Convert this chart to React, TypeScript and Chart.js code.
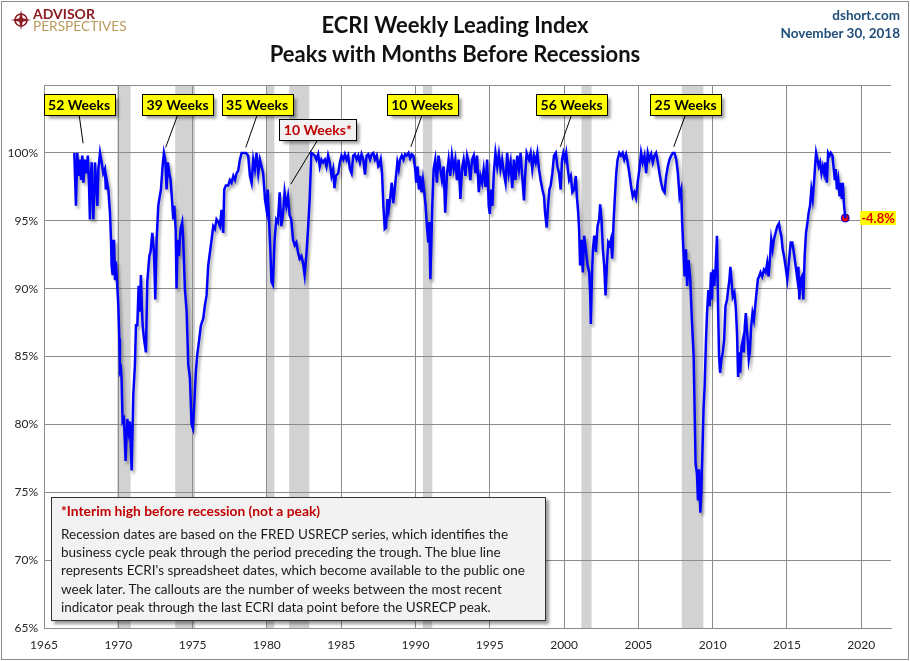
import { useEffect, useRef } from 'react';
import { Chart, registerables } from 'chart.js';

Chart.register(...registerables);

const FONT = "Lato, 'Open Sans', 'DejaVu Sans', sans-serif";

// ECRI Weekly Leading Index, % of prior peak: [year, value]
const ecri1967to1975: [number, number][] = [
  [1967.04, 100.0], [1967.15, 96.1], [1967.24, 100.0], [1967.33, 98.3], [1967.42, 99.5], [1967.5, 98.0],
  [1967.58, 99.8], [1967.65, 97.8], [1967.75, 99.5], [1967.87, 98.5], [1967.95, 99.8], [1968.03, 97.6],
  [1968.09, 95.1], [1968.15, 98.3], [1968.21, 99.3], [1968.27, 97.3], [1968.32, 95.1], [1968.38, 97.3],
  [1968.43, 99.3], [1968.5, 98.0], [1968.59, 96.1], [1968.66, 98.8], [1968.77, 100.0], [1968.88, 99.3],
  [1968.99, 98.5], [1969.1, 98.8], [1969.16, 97.3], [1969.22, 98.0], [1969.33, 97.3], [1969.44, 95.6],
  [1969.51, 93.6], [1969.55, 91.7], [1969.62, 91.0], [1969.71, 93.6], [1969.78, 90.7], [1969.84, 92.0],
  [1969.93, 90.2], [1970.0, 88.8], [1970.07, 86.3], [1970.11, 83.9], [1970.18, 84.1], [1970.22, 83.4],
  [1970.29, 80.2], [1970.38, 80.4], [1970.49, 77.3], [1970.55, 79.0], [1970.61, 80.4], [1970.7, 79.5],
  [1970.78, 80.2], [1970.9, 76.6], [1971.01, 82.2], [1971.12, 84.4], [1971.19, 87.3], [1971.28, 87.3],
  [1971.37, 90.2], [1971.46, 88.3], [1971.52, 91.0], [1971.58, 88.8], [1971.64, 87.3], [1971.73, 86.3],
  [1971.86, 85.3], [1971.95, 90.5], [1972.09, 92.4], [1972.17, 92.7], [1972.29, 94.1], [1972.4, 92.7],
  [1972.49, 89.2], [1972.58, 93.6], [1972.69, 96.1], [1972.76, 96.6], [1972.87, 97.3], [1972.98, 99.0],
  [1973.07, 100.0], [1973.16, 99.5], [1973.25, 97.3], [1973.34, 99.3], [1973.43, 98.5], [1973.52, 98.0],
  [1973.61, 96.6], [1973.7, 95.1], [1973.77, 96.1], [1973.86, 94.4], [1973.92, 90.0], [1973.99, 93.6],
  [1974.08, 92.4], [1974.19, 94.4], [1974.3, 94.9], [1974.37, 93.6], [1974.48, 90.0], [1974.6, 88.3],
  [1974.71, 84.4], [1974.82, 83.4], [1974.93, 80.0], [1975.02, 79.7],
];

const ecri1975to1983: [number, number][] = [
  [1975.11, 81.4], [1975.22, 83.9], [1975.31, 85.1], [1975.45, 86.3], [1975.56, 87.3], [1975.72, 87.8],
  [1975.83, 88.8], [1975.94, 89.5], [1976.05, 91.7], [1976.17, 92.7], [1976.28, 93.6], [1976.39, 94.6],
  [1976.5, 94.4], [1976.61, 95.1], [1976.73, 94.9], [1976.84, 94.6], [1976.95, 95.8], [1977.06, 94.1],
  [1977.13, 97.3], [1977.24, 97.6], [1977.4, 97.6], [1977.51, 98.0], [1977.62, 97.8], [1977.74, 98.3],
  [1977.85, 98.0], [1977.96, 98.5], [1978.07, 98.7], [1978.18, 99.5], [1978.3, 100.0], [1978.45, 100.0],
  [1978.59, 100.0], [1978.74, 99.8], [1978.86, 98.3], [1978.97, 97.8], [1979.08, 99.5], [1979.19, 98.8],
  [1979.3, 100.0], [1979.42, 98.5], [1979.53, 99.5], [1979.64, 99.0], [1979.75, 98.5], [1979.87, 96.6],
  [1979.98, 95.8], [1980.05, 97.3], [1980.15, 94.9], [1980.23, 92.9], [1980.31, 90.5], [1980.4, 90.3],
  [1980.52, 93.6], [1980.63, 95.1], [1980.74, 94.9], [1980.86, 97.1], [1980.97, 94.6], [1981.08, 95.4],
  [1981.19, 97.1], [1981.31, 96.1], [1981.42, 96.8], [1981.53, 95.4], [1981.64, 95.1], [1981.76, 93.6],
  [1981.87, 93.2], [1981.98, 93.4], [1982.09, 92.7], [1982.2, 92.2], [1982.32, 92.4], [1982.43, 91.9],
  [1982.54, 91.0], [1982.65, 92.4], [1982.77, 94.4], [1982.88, 96.6], [1982.99, 100.0],
];

const ecri1983to1995: [number, number][] = [
  [1983.22, 99.8], [1983.33, 99.5], [1983.45, 99.9], [1983.56, 99.0], [1983.67, 99.5], [1983.78, 99.3],
  [1983.9, 99.5], [1984.01, 99.0], [1984.12, 99.8], [1984.23, 99.3], [1984.35, 98.3], [1984.46, 98.8],
  [1984.55, 97.4], [1984.64, 98.3], [1984.8, 98.5], [1984.91, 99.3], [1985.02, 99.8], [1985.14, 99.5],
  [1985.25, 99.9], [1985.36, 99.5], [1985.47, 99.8], [1985.59, 98.8], [1985.7, 98.5], [1985.81, 99.8],
  [1985.92, 99.9], [1986.04, 99.5], [1986.15, 99.8], [1986.26, 99.3], [1986.37, 99.9], [1986.49, 99.5],
  [1986.6, 98.4], [1986.71, 99.8], [1986.82, 99.9], [1986.94, 99.5], [1987.05, 99.9], [1987.16, 100.0],
  [1987.27, 99.5], [1987.39, 99.8], [1987.5, 99.0], [1987.57, 99.1], [1987.66, 99.5], [1987.75, 98.5],
  [1987.84, 96.1], [1987.93, 94.4], [1988.02, 94.5], [1988.11, 96.6], [1988.2, 95.8], [1988.29, 96.6],
  [1988.4, 97.8], [1988.51, 96.3], [1988.6, 97.3], [1988.69, 98.3], [1988.78, 99.3], [1988.87, 98.8],
  [1988.96, 99.5], [1989.08, 99.8], [1989.19, 99.5], [1989.3, 99.9], [1989.41, 99.8], [1989.53, 100.0],
  [1989.64, 99.6], [1989.75, 99.9], [1989.86, 99.8], [1989.98, 98.8], [1990.05, 97.8], [1990.14, 99.0],
  [1990.23, 97.3], [1990.32, 98.3], [1990.41, 97.1], [1990.5, 98.0], [1990.59, 97.1], [1990.68, 96.1],
  [1990.77, 94.6], [1990.86, 93.4], [1990.93, 94.9], [1991.0, 90.7], [1991.06, 93.1], [1991.13, 96.1],
  [1991.22, 98.8], [1991.33, 99.5], [1991.44, 97.8], [1991.55, 99.8], [1991.67, 98.8], [1991.78, 98.0],
  [1991.89, 99.0], [1992.0, 95.6], [1992.12, 98.5], [1992.23, 99.5], [1992.34, 98.3], [1992.45, 99.8],
  [1992.57, 98.8], [1992.68, 99.5], [1992.79, 98.0], [1992.9, 99.5], [1993.02, 96.6], [1993.13, 98.8],
  [1993.24, 99.5], [1993.36, 98.3], [1993.47, 99.8], [1993.58, 99.3], [1993.69, 98.0], [1993.81, 99.5],
  [1993.92, 99.8], [1994.03, 98.5], [1994.14, 99.8], [1994.26, 97.1], [1994.37, 98.3], [1994.48, 97.8],
  [1994.59, 98.8], [1994.71, 97.5], [1994.82, 99.5], [1994.93, 96.1], [1995.0, 95.5],
];

const ecri1995to2008: [number, number][] = [
  [1995.09, 97.3], [1995.18, 96.1], [1995.27, 98.5], [1995.38, 100.0], [1995.5, 99.0], [1995.61, 99.9],
  [1995.72, 98.8], [1995.83, 99.5], [1995.95, 98.5], [1996.06, 97.8], [1996.17, 100.0], [1996.28, 98.5],
  [1996.4, 99.3], [1996.51, 97.4], [1996.62, 99.5], [1996.73, 98.0], [1996.85, 99.8], [1996.96, 98.8],
  [1997.07, 100.0], [1997.18, 98.3], [1997.3, 96.5], [1997.36, 98.0], [1997.48, 100.0], [1997.64, 99.5],
  [1997.75, 100.0], [1997.86, 98.8], [1997.97, 99.8], [1998.09, 99.3], [1998.2, 100.0], [1998.31, 98.8],
  [1998.42, 98.0], [1998.54, 97.3], [1998.65, 96.8], [1998.72, 95.6], [1998.83, 94.5], [1998.92, 96.1],
  [1999.01, 97.3], [1999.1, 97.6], [1999.21, 98.5], [1999.32, 99.8], [1999.44, 100.0], [1999.55, 99.0],
  [1999.66, 98.5], [1999.77, 97.3], [1999.86, 99.5], [1999.95, 100.0], [2000.05, 99.5], [2000.14, 100.0],
  [2000.23, 99.0], [2000.34, 98.0], [2000.45, 98.3], [2000.56, 97.1], [2000.68, 97.3], [2000.79, 98.3],
  [2000.86, 96.8], [2000.95, 95.6], [2001.01, 94.4], [2001.08, 91.7], [2001.17, 93.6], [2001.26, 91.2],
  [2001.35, 93.9], [2001.46, 92.9], [2001.58, 91.7], [2001.69, 91.2], [2001.76, 89.5], [2001.8, 87.4],
  [2001.87, 90.7], [2001.94, 92.9], [2002.03, 93.9], [2002.14, 92.7], [2002.25, 94.6], [2002.36, 95.1],
  [2002.43, 96.2], [2002.52, 95.1], [2002.61, 92.9], [2002.7, 91.7], [2002.79, 89.5], [2002.88, 91.7],
  [2002.97, 93.4], [2003.06, 93.2], [2003.15, 93.6], [2003.24, 92.2], [2003.33, 94.9], [2003.42, 96.8],
  [2003.51, 98.5], [2003.6, 99.5], [2003.72, 100.0], [2003.83, 99.8], [2003.94, 100.0], [2004.05, 99.5],
  [2004.17, 99.9], [2004.28, 99.3], [2004.39, 98.5], [2004.5, 97.6], [2004.62, 96.8], [2004.73, 97.1],
  [2004.84, 96.7], [2004.95, 97.8], [2005.07, 98.8], [2005.18, 100.0], [2005.29, 99.3], [2005.41, 99.8],
  [2005.52, 98.5], [2005.63, 100.0], [2005.74, 99.5], [2005.86, 99.9], [2005.97, 99.3], [2006.08, 99.8],
  [2006.19, 100.0], [2006.31, 99.3], [2006.42, 98.5], [2006.53, 97.8], [2006.64, 97.3], [2006.76, 97.1],
  [2006.87, 98.3], [2006.98, 99.0], [2007.09, 99.5], [2007.21, 99.8], [2007.32, 100.0], [2007.43, 100.0],
  [2007.55, 99.5], [2007.66, 98.5], [2007.77, 96.8], [2007.88, 97.3],
];

const ecri2008to2018: [number, number][] = [
  [2007.95, 94.8], [2008.02, 93.1], [2008.11, 90.9], [2008.2, 92.9], [2008.28, 90.2], [2008.38, 92.1],
  [2008.49, 90.7], [2008.6, 87.7], [2008.72, 85.0], [2008.78, 81.3], [2008.85, 77.1], [2008.94, 76.4],
  [2009.01, 74.4], [2009.08, 76.7], [2009.17, 73.5], [2009.23, 74.9], [2009.3, 77.6], [2009.39, 81.3],
  [2009.46, 82.8], [2009.55, 86.2], [2009.62, 88.2], [2009.71, 89.9], [2009.8, 88.7], [2009.89, 91.2],
  [2009.95, 89.2], [2010.02, 91.4], [2010.11, 90.2], [2010.2, 91.6], [2010.29, 93.9], [2010.36, 88.7],
  [2010.43, 85.0], [2010.5, 83.8], [2010.59, 84.8], [2010.68, 85.3], [2010.77, 86.2], [2010.86, 88.7],
  [2010.97, 89.2], [2011.04, 89.9], [2011.13, 90.7], [2011.19, 91.6], [2011.26, 90.7], [2011.35, 89.4],
  [2011.46, 89.7], [2011.55, 88.7], [2011.64, 86.7], [2011.71, 83.5], [2011.78, 85.3], [2011.85, 83.8],
  [2011.94, 85.7], [2012.03, 86.2], [2012.09, 85.3], [2012.16, 87.2], [2012.23, 88.2], [2012.3, 87.0],
  [2012.36, 86.2], [2012.43, 84.8], [2012.5, 85.3], [2012.59, 87.2], [2012.68, 88.2], [2012.77, 87.7],
  [2012.86, 88.7], [2012.95, 89.7], [2013.04, 90.7], [2013.13, 90.9], [2013.22, 91.2], [2013.33, 90.9],
  [2013.45, 91.4], [2013.56, 91.2], [2013.67, 91.9], [2013.76, 90.9], [2013.85, 92.1], [2013.94, 93.6],
  [2014.03, 92.9], [2014.12, 93.6], [2014.23, 94.1], [2014.35, 94.6], [2014.46, 94.8], [2014.53, 94.3],
  [2014.62, 93.9], [2014.71, 92.9], [2014.8, 92.4], [2014.91, 91.6], [2015.02, 90.7], [2015.14, 92.1],
  [2015.25, 93.4], [2015.36, 93.4], [2015.47, 92.6], [2015.59, 91.6], [2015.7, 90.7], [2015.77, 91.6],
  [2015.83, 89.2], [2015.92, 90.7], [2016.01, 90.9], [2016.1, 89.2], [2016.19, 92.4], [2016.28, 94.1],
  [2016.37, 94.8], [2016.46, 95.6], [2016.55, 96.1], [2016.64, 97.3], [2016.73, 96.6], [2016.82, 97.8],
  [2016.89, 99.0], [2016.96, 100.0], [2017.05, 99.5], [2017.14, 99.0], [2017.23, 99.3], [2017.32, 98.5],
  [2017.41, 99.0], [2017.5, 98.5], [2017.59, 99.3], [2017.68, 97.8], [2017.77, 100.0], [2017.86, 99.8],
  [2017.95, 100.0], [2018.06, 99.8], [2018.13, 99.0], [2018.22, 98.0], [2018.28, 98.8], [2018.36, 97.3],
  [2018.45, 98.0], [2018.54, 96.8], [2018.63, 97.8], [2018.69, 96.6], [2018.76, 97.8], [2018.83, 96.3],
  [2018.92, 95.2],
];

const latestPoint: [number, number] = [2018.92, 95.2];
const latestLabel = '-4.8%';

// USRECP recession periods [start, end]
const recessions: [number, number][] = [
  [1969.92, 1970.83], [1973.83, 1975.17], [1980.0, 1980.5], [1981.5, 1982.85],
  [1990.5, 1991.13], [2001.17, 2001.85], [2007.92, 2009.37],
];

// Callouts: label, box centre (year, value), pointer tip (year, value), interim flag
const calloutLabels = ['52 Weeks', '39 Weeks', '35 Weeks', '10 Weeks*', '10 Weeks', '56 Weeks', '25 Weeks'];
const calloutBoxYear = [1967.36, 1973.99, 1979.34, 1983.43, 1990.45, 2000.51, 2008.18];
const calloutBoxValue = [103.6, 103.55, 103.55, 101.75, 103.6, 103.6, 103.6];
const calloutTipYear = [1967.63, 1973.19, 1978.58, 1981.61, 1989.69, 1999.75, 2007.38];
const calloutTipValue = [100.7, 100.4, 100.4, 97.7, 100.45, 100.45, 100.45];
const calloutInterim = [false, false, false, true, false, false, false];

const xMin = 1965;
const xMax = 2022;
const xStep = 5;
const yMin = 65;
const yMax = 105;
const yStep = 5;

export default function App() {
  const canvasRef = useRef<HTMLCanvasElement>(null);

  useEffect(() => {
    document.body.style.margin = '0';
    const series = [...ecri1967to1975, ...ecri1975to1983, ...ecri1983to1995, ...ecri1995to2008, ...ecri2008to2018]
      .map(([x, y]) => ({ x, y }));

    const bandsPlugin = {
      id: 'recessionBands',
      beforeDraw(chart: any) {
        const { ctx, chartArea, scales } = chart;
        ctx.save();
        ctx.fillStyle = '#d2d2d2';
        for (const [s, e] of recessions) {
          const x0 = scales.x.getPixelForValue(s);
          const x1 = scales.x.getPixelForValue(e);
          ctx.fillRect(x0, chartArea.top, x1 - x0, chartArea.bottom - chartArea.top);
        }
        ctx.restore();
      },
    };

    const shadowPlugin = {
      id: 'lineShadow',
      beforeDatasetDraw(chart: any, args: any) {
        if (args.index !== 0) return;
        const ctx = chart.ctx;
        ctx.save();
        ctx.shadowColor = 'rgba(0,0,0,0.35)';
        ctx.shadowBlur = 3;
        ctx.shadowOffsetX = 2;
        ctx.shadowOffsetY = 3;
      },
      afterDatasetDraw(chart: any, args: any) {
        if (args.index !== 0) return;
        chart.ctx.restore();
      },
    };

    const calloutPlugin = {
      id: 'callouts',
      afterDatasetsDraw(chart: any) {
        const { ctx, scales } = chart;
        const { x, y } = scales;
        ctx.save();
        ctx.font = `bold 14px ${FONT}`;
        ctx.textAlign = 'center';
        ctx.textBaseline = 'middle';
        calloutLabels.forEach((label, i) => {
          const bx = x.getPixelForValue(calloutBoxYear[i]);
          const by = y.getPixelForValue(calloutBoxValue[i]);
          const tx = x.getPixelForValue(calloutTipYear[i]);
          const ty = y.getPixelForValue(calloutTipValue[i]);
          const w = Math.round(ctx.measureText(label).width + 9);
          const h = 21;
          ctx.strokeStyle = '#000';
          ctx.lineWidth = 1;
          ctx.beginPath();
          ctx.moveTo(bx, by + h / 2);
          ctx.lineTo(tx, ty);
          ctx.stroke();
          const left = Math.round(bx - w / 2) + 0.5;
          const top = Math.round(by - h / 2) + 0.5;
          ctx.save();
          ctx.shadowColor = 'rgba(0,0,0,0.4)';
          ctx.shadowBlur = 3;
          ctx.shadowOffsetX = 3;
          ctx.shadowOffsetY = 3;
          ctx.fillStyle = calloutInterim[i] ? '#f2f2f2' : '#ffff00';
          ctx.fillRect(left, top, w, h);
          ctx.restore();
          ctx.strokeStyle = '#000';
          ctx.strokeRect(left, top, w, h);
          ctx.fillStyle = calloutInterim[i] ? '#c00000' : '#000';
          ctx.fillText(label, bx, by + 1);
        });
        // latest value label
        const px = x.getPixelForValue(latestPoint[0]);
        const py = y.getPixelForValue(latestPoint[1]);
        ctx.font = `bold 13px ${FONT}`;
        ctx.textAlign = 'left';
        const tw = ctx.measureText(latestLabel).width;
        const lx = px + 16;
        ctx.fillStyle = '#ffff00';
        ctx.fillRect(lx - 1, py - 7, tw + 2, 14);
        ctx.fillStyle = '#e00000';
        ctx.fillText(latestLabel, lx, py + 1);
        ctx.restore();
      },
    };

    const chart = new Chart(canvasRef.current as HTMLCanvasElement, {
      type: 'line',
      data: {
        datasets: [
          {
            data: series,
            borderColor: '#0000ff',
            borderWidth: 2.5,
            pointRadius: 0,
            tension: 0,
            fill: false,
          },
          {
            data: [{ x: latestPoint[0], y: latestPoint[1] }],
            showLine: false,
            pointRadius: 4,
            pointBackgroundColor: '#ff0000',
            pointBorderColor: '#0000ff',
            pointBorderWidth: 1,
          },
        ],
      },
      options: {
        responsive: false,
        animation: false,
        layout: { padding: { top: 85, right: 19, left: 0, bottom: 0 } },
        plugins: {
          legend: { display: false },
          tooltip: { enabled: false },
          title: { display: false },
        },
        scales: {
          x: {
            type: 'linear',
            min: xMin,
            max: xMax,
            ticks: {
              stepSize: xStep,
              includeBounds: false,
              autoSkip: false,
              maxRotation: 0,
              padding: 10,
              color: '#262626',
              font: { family: FONT, size: 12 },
              callback: (v: any) => String(v),
            },
            grid: { color: '#8c8c8c', lineWidth: 1, drawTicks: false },
            border: { display: true, color: '#8c8c8c' },
            afterFit: (s: any) => { s.height = 33; },
          },
          y: {
            type: 'linear',
            min: yMin,
            max: yMax,
            ticks: {
              stepSize: yStep,
              padding: 6,
              color: '#262626',
              font: { family: FONT, size: 12 },
              callback: (v: any) => (Number(v) <= 100 ? `${v}%` : ''),
            },
            grid: { color: '#8c8c8c', lineWidth: 1, drawTicks: false },
            border: { display: true, color: '#8c8c8c' },
            afterFit: (s: any) => { s.width = 44; },
          },
        },
      },
      plugins: [bandsPlugin, shadowPlugin, calloutPlugin],
    });
    return () => chart.destroy();
  }, []);

  return (
    <div style={{ position: 'relative', width: 910, height: 661, background: '#fff', fontFamily: FONT, overflow: 'hidden' }}>
      <canvas ref={canvasRef} width={910} height={661} style={{ position: 'absolute', left: 0, top: 0, width: 910, height: 661 }} />
      <div style={{ position: 'absolute', left: 1, top: 1, width: 908, height: 659, boxSizing: 'border-box', border: '1px solid #8c8c8c', pointerEvents: 'none' }} />
      {/* logo */}
      <svg width={20} height={20} viewBox="0 0 20 20" style={{ position: 'absolute', left: 11, top: 10 }}>
        <circle cx={10} cy={10} r={6} fill="none" stroke="#8b1c23" strokeWidth={1.6} />
        <polygon points="10,0 11.7,8.3 20,10 11.7,11.7 10,20 8.3,11.7 0,10 8.3,8.3" fill="#8b1c23" />
        <circle cx={10} cy={10} r={2} fill="#8b1c23" />
      </svg>
      <div style={{ position: 'absolute', left: 33, top: 8, fontSize: 14, fontWeight: 'bold', color: '#8b1c23', lineHeight: '12px' }}>ADVISOR</div>
      <div style={{ position: 'absolute', left: 33, top: 20, fontSize: 13.7, color: '#b99a5b', lineHeight: '12px' }}>PERSPECTIVES</div>
      {/* title */}
      <div style={{ position: 'absolute', left: 0, top: 10, width: 910, textAlign: 'center', fontSize: 22, fontWeight: 'bold', color: '#111', lineHeight: '29px' }}>
        ECRI Weekly Leading Index<br />Peaks with Months Before Recessions
      </div>
      <div style={{ position: 'absolute', right: 10, top: 6, textAlign: 'right', fontSize: 13.5, fontWeight: 'bold', color: '#1f4e79', lineHeight: '18px' }}>
        dshort.com<br />November 30, 2018
      </div>
      {/* note box */}
      <div style={{ position: 'absolute', left: 51, top: 497, width: 495, height: 124, boxSizing: 'border-box', background: '#f2f2f2', border: '1px solid #333', boxShadow: '3px 3px 3px rgba(0,0,0,0.4)', padding: '3px 8px 0 9px', whiteSpace: 'nowrap' }}>
        <div style={{ color: '#c00000', fontWeight: 'bold', fontSize: 13.8, lineHeight: '19px' }}>*Interim high before recession (not a peak)</div>
        <div style={{ color: '#1a1a1a', fontSize: 13.5, lineHeight: '18.2px', marginTop: 5 }}>
          Recession dates are based on the FRED USRECP series, which identifies the<br />
          business cycle peak through the period preceding the trough. The blue line<br />
          represents ECRI's spreadsheet dates, which become available to the public one<br />
          week later. The callouts are the number of weeks between the most recent<br />
          indicator peak through the last ECRI data point before the USRECP peak.
        </div>
      </div>
    </div>
  );
}
